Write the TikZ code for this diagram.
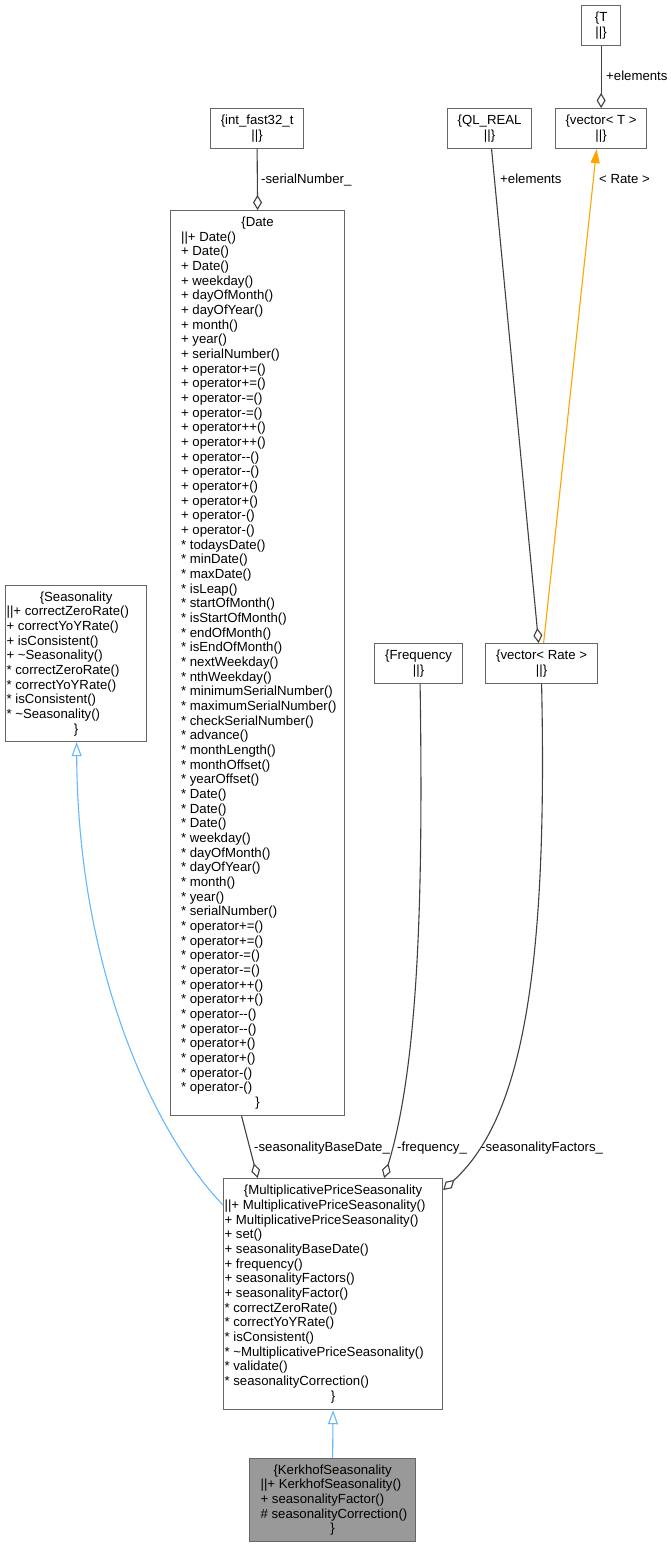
\documentclass[tikz,border=0pt]{standalone}
\usepackage{fontspec}
\setmainfont{Liberation Sans}
\usetikzlibrary{arrows.meta}

\definecolor{boxline}{HTML}{666666}
\definecolor{edgegray}{HTML}{404040}
\definecolor{inheritblue}{HTML}{63B8FF}
\definecolor{tmplorange}{HTML}{FFA500}
\definecolor{focusfill}{HTML}{999999}

\newcommand\umltext{\fontsize{13.2pt}{14.67pt}\selectfont}
% class body: width, member indent, class name, member lines (one paragraph each)
\newcommand\classbody[4]{\parbox{#1}{\centering\{#3\par
  {\raggedright\leftskip=#2\relax #4\par}\centering\}\par}}

\begin{document}
\begin{tikzpicture}[x=1pt, y=-1pt,
  every node/.style={font=\umltext},
  cls/.style={draw=boxline, line width=1.2pt, fill=white, inner sep=0pt, anchor=north west},
  focus/.style={cls, fill=focusfill},
  small/.style={cls, align=center},
  lbl/.style={anchor=base west, inner sep=0pt},
  agg/.style={draw=edgegray, line width=1.1pt, -{Diamond[length=15pt, width=9pt, fill=white]}},
  inh/.style={draw=inheritblue, line width=1.1pt, -{Triangle[length=14pt, width=10pt, fill=white]}},
  tmpl/.style={draw=tmplorange, line width=1.1pt, -{Triangle[length=14pt, width=9pt]}}]

\fill[white] (0,0) rectangle (671,1548);
\useasboundingbox (0,0) rectangle (671,1548);

% small helper classes
\node[small, minimum width=39, minimum height=40] (t) at (581,5) {\{T\\||\}};
\node[small, minimum width=91, minimum height=40] (vect) at (555,108) {\{vector< T >\\||\}};
\node[small, minimum width=84, minimum height=40] (qlreal) at (447,108) {\{QL\_REAL\\||\}};
\node[small, minimum width=93, minimum height=40] (intf) at (210,108) {\{int\_fast32\_t\\||\}};
\node[small, minimum width=88, minimum height=40] (freq) at (374,643) {\{Frequency\\||\}};
\node[small, minimum width=112, minimum height=40] (vrate) at (485,643) {\{vector< Rate >\\||\}};

% Date
\node[cls, minimum width=174, minimum height=905] (date) at (170,210) {\classbody{174pt}{10.5pt}{Date}{%
||+ Date()\par
+ Date()\par
+ Date()\par
+ weekday()\par
+ dayOfMonth()\par
+ dayOfYear()\par
+ month()\par
+ year()\par
+ serialNumber()\par
+ operator+=()\par
+ operator+=()\par
+ operator-=()\par
+ operator-=()\par
+ operator++()\par
+ operator++()\par
+ operator-{}-()\par
+ operator-{}-()\par
+ operator+()\par
+ operator+()\par
+ operator-()\par
+ operator-()\par
* todaysDate()\par
* minDate()\par
* maxDate()\par
* isLeap()\par
* startOfMonth()\par
* isStartOfMonth()\par
* endOfMonth()\par
* isEndOfMonth()\par
* nextWeekday()\par
* nthWeekday()\par
* minimumSerialNumber()\par
* maximumSerialNumber()\par
* checkSerialNumber()\par
* advance()\par
* monthLength()\par
* monthOffset()\par
* yearOffset()\par
* Date()\par
* Date()\par
* Date()\par
* weekday()\par
* dayOfMonth()\par
* dayOfYear()\par
* month()\par
* year()\par
* serialNumber()\par
* operator+=()\par
* operator+=()\par
* operator-=()\par
* operator-=()\par
* operator++()\par
* operator++()\par
* operator-{}-()\par
* operator-{}-()\par
* operator+()\par
* operator+()\par
* operator-()\par
* operator-()}};

% Seasonality
\node[cls, minimum width=141, minimum height=156] (seas) at (5,585) {\classbody{141pt}{1pt}{Seasonality}{%
||+ correctZeroRate()\par
+ correctYoYRate()\par
+ isConsistent()\par
+ \textasciitilde Seasonality()\par
* correctZeroRate()\par
* correctYoYRate()\par
* isConsistent()\par
* \textasciitilde Seasonality()}};

% MultiplicativePriceSeasonality
\node[cls, minimum width=219, minimum height=231] (mps) at (223,1178) {\classbody{219pt}{1pt}{MultiplicativePriceSeasonality}{%
||+ MultiplicativePriceSeasonality()\par
+ MultiplicativePriceSeasonality()\par
+ set()\par
+ seasonalityBaseDate()\par
+ frequency()\par
+ seasonalityFactors()\par
+ seasonalityFactor()\par
* correctZeroRate()\par
* correctYoYRate()\par
* isConsistent()\par
* \textasciitilde MultiplicativePriceSeasonality()\par
* validate()\par
* seasonalityCorrection()}};

% KerkhofSeasonality
\node[focus, minimum width=166, minimum height=83] (kerk) at (249,1458) {\classbody{166pt}{11pt}{KerkhofSeasonality}{%
||+ KerkhofSeasonality()\par
+ seasonalityFactor()\par
\# seasonalityCorrection()}};

% aggregation edges
\draw[agg] (t.south) -- (vect.north);
\node[lbl] (lt) at (606,80.5) {+elements};

\draw[agg] (intf.south) -- (date.north);
\node[lbl] (lint) at (261,183.5) {-serialNumber\_};

\draw[agg] ([xshift=2]qlreal.south) -- ([xshift=-3]vrate.north);
\node[lbl] (lql) at (500,183.5) {+elements};

\draw[tmpl] ([xshift=2]vrate.north) -- ([xshift=-4.5]vect.south);
\node[lbl] (lrate) at (599,183.5) {< Rate >};

\draw[agg] ([xshift=-16]date.south) -- ([xshift=-75.5]mps.north);
\node[lbl] (lbase) at (254,1151.5) {-seasonalityBaseDate\_};

\draw[agg] ([xshift=1.5]freq.south) .. controls (423,880) and (420,1060) .. ([xshift=51]mps.north);
\node[lbl] (lfreq) at (397,1151.5) {-frequency\_};

\draw[agg] (vrate.south) .. controls (548,980) and (520,1120) .. ([yshift=-12]mps.north east);
\node[lbl] (lfact) at (481,1151.5) {-seasonalityFactors\_};

% inheritance edges
\draw[inh] ([yshift=-27]mps.north west) .. controls (160,1140) and (78,980) .. ([xshift=0.5]seas.south);
\draw[inh] (kerk.north) -- (mps.south);

\end{tikzpicture}
\end{document}
